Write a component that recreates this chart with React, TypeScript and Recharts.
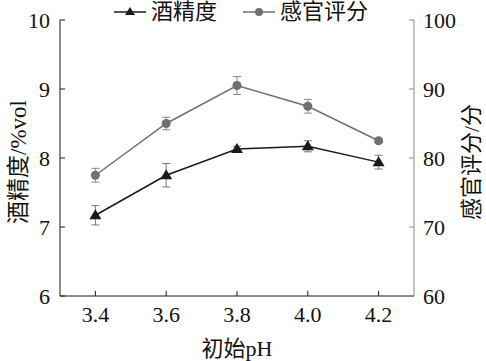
import React from "react";
import { LineChart, Line, XAxis, YAxis, ErrorBar, Label } from "recharts";

const phValues = [3.4, 3.6, 3.8, 4.0, 4.2];
const alcohol = [7.17, 7.75, 8.13, 8.17, 7.94];
const alcoholErr = [0.14, 0.17, 0.04, 0.08, 0.1];
const sensory = [77.5, 85.0, 90.5, 87.5, 82.5];
const sensoryErr = [1.0, 0.9, 1.3, 1.0, 0.3];
const xTicks = [3.4, 3.6, 3.8, 4.0, 4.2];
const leftTicks = [6, 7, 8, 9, 10];
const rightTicks = [60, 70, 80, 90, 100];

const data = phValues.map((ph, i) => ({
  ph,
  alcohol: alcohol[i],
  alcoholErr: alcoholErr[i],
  sensory: sensory[i],
  sensoryErr: sensoryErr[i],
}));

const FONT = "'Liberation Serif', 'Times New Roman', 'Noto Sans CJK SC', serif";
const DARK = "#1a1a1a";
const GREY = "#707070";

const Triangle = (props: any) => {
  const { cx, cy } = props;
  if (cx == null || cy == null) return null;
  return <path d={`M${cx},${cy - 6} L${cx + 6},${cy + 4} L${cx - 6},${cy + 4} Z`} fill={DARK} />;
};

const LegendIcon = ({ kind }: { kind: "tri" | "dot" }) => (
  <svg width={32} height={12} style={{ marginRight: 5 }}>
    <line x1={0} y1={6} x2={32} y2={6} stroke={kind === "tri" ? DARK : GREY} strokeWidth={1.5} />
    {kind === "tri" ? (
      <path d="M16,1 L21,9 L11,9 Z" fill={DARK} />
    ) : (
      <circle cx={16} cy={6} r={4} fill={GREY} />
    )}
  </svg>
);

const tickStyle = { fill: "#111", fontSize: 22 };

export default function App() {
  return (
    <div style={{ position: "absolute", left: 0, top: 0, width: 486, height: 361, background: "#fff", fontFamily: FONT }}>
      <style>{`.recharts-wrapper text { font-family: ${FONT} !important; }`}</style>
      <LineChart width={486} height={361} data={data} margin={{ top: 20, right: 0, bottom: 0, left: 0 }}>
        <XAxis
          dataKey="ph"
          type="number"
          domain={[3.3, 4.3]}
          ticks={xTicks}
          tickFormatter={(v: number) => v.toFixed(1)}
          height={65}
          tickSize={-5}
          tickMargin={15}
          stroke={DARK}
          tick={tickStyle}
        >
          <Label value="初始pH" position="insideBottom" offset={5} style={{ fill: "#111", fontSize: 22 }} />
        </XAxis>
        <YAxis
          yAxisId="left"
          domain={[6, 10]}
          ticks={leftTicks}
          width={60}
          tickSize={-5}
          tickMargin={15}
          stroke={DARK}
          tick={tickStyle}
        >
          <Label value="酒精度/%vol" angle={-90} position="center" dx={-12} dy={4} style={{ fill: "#111", fontSize: 23 }} />
        </YAxis>
        <YAxis
          yAxisId="right"
          orientation="right"
          domain={[60, 100]}
          ticks={rightTicks}
          width={72}
          tickSize={-5}
          tickMargin={14}
          stroke="#888"
          tick={tickStyle}
        >
          <Label value="感官评分/分" angle={-90} position="center" dx={21} dy={4} style={{ fill: "#111", fontSize: 22 }} />
        </YAxis>
        <Line
          yAxisId="left"
          dataKey="alcohol"
          stroke={DARK}
          strokeWidth={1.5}
          dot={<Triangle />}
          activeDot={false}
          isAnimationActive={false}
        >
          <ErrorBar dataKey="alcoholErr" width={4} stroke="#777" strokeWidth={1} direction="y" isAnimationActive={false} />
        </Line>
        <Line
          yAxisId="right"
          dataKey="sensory"
          stroke={GREY}
          strokeWidth={1.5}
          dot={{ r: 4.5, fill: GREY, stroke: GREY, strokeWidth: 0 }}
          activeDot={false}
          isAnimationActive={false}
        >
          <ErrorBar dataKey="sensoryErr" width={4} stroke="#888" strokeWidth={1} direction="y" isAnimationActive={false} />
        </Line>
      </LineChart>
      <div
        style={{
          position: "absolute",
          top: 0,
          left: 114,
          display: "flex",
          alignItems: "center",
          fontSize: 22,
          lineHeight: "24px",
          color: "#111",
        }}
      >
        <LegendIcon kind="tri" />
        <span style={{ marginRight: 26 }}>酒精度</span>
        <LegendIcon kind="dot" />
        <span>感官评分</span>
      </div>
    </div>
  );
}
